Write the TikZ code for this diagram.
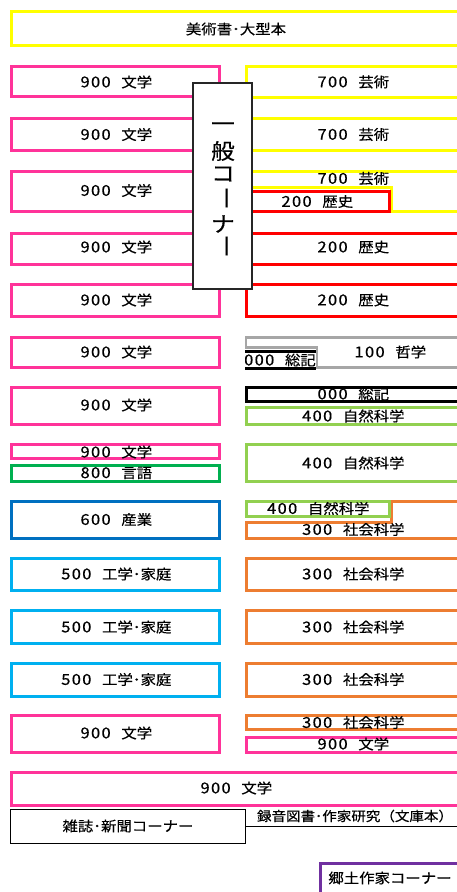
\documentclass[tikz,border=0pt]{standalone}
\usepackage{fontspec}
\setmainfont{Noto Sans CJK JP}[FakeStretch=1.1, FakeBold=0.35]
\usepackage{graphicx}
\definecolor{cpink}{HTML}{FF3399}
\definecolor{cyellow}{HTML}{FFFF00}
\definecolor{cred}{HTML}{FF0000}
\definecolor{cgray}{HTML}{A6A6A6}
\definecolor{clgreen}{HTML}{92D050}
\definecolor{cgreen}{HTML}{00B050}
\definecolor{cblue}{HTML}{0070C0}
\definecolor{ccyan}{HTML}{00B0F0}
\definecolor{corange}{HTML}{ED7D31}
\definecolor{cpurple}{HTML}{7030A0}
\newcommand\mydg[3]{{\fontsize{15}{16}\selectfont\makebox[10.5pt]{#1}\makebox[10.5pt]{#2}\makebox[10.5pt]{#3}}}
\newcommand\mylbl[2]{\mydg#1\hspace{10pt}#2}
\newcommand\cbx[6]{\node[cbox=#2, minimum width={(#5-#3)*1pt}, minimum height={(#6-#4)*1pt}] (#1) at ({(#3+#5)/2},{(#4+#6)/2}) {};}
\begin{document}
\begin{tikzpicture}[x=1pt,y=-1pt,
  cbox/.style={draw=#1, line width=3pt, fill=white, inner sep=0pt, outer sep=0pt},
  lbl/.style={inner sep=0pt, font=\fontsize{14}{16}\selectfont},
  big/.style={inner sep=0pt, font=\fontsize{21.5}{22}\selectfont}]
\useasboundingbox (0,0) rectangle (457,892);
\fill[white] (0,0) rectangle (457,892);
\clip (0,0) rectangle (457,892);

% top
\cbx{top}{cyellow}{11}{11.5}{461}{45.5}
\node[lbl] (ttop) at (236,29) {美術書･大型本};

% left column
\cbx{L1}{cpink}{11}{66.5}{219}{96.5}
\cbx{L2}{cpink}{11}{118.5}{219}{150.5}
\cbx{L3}{cpink}{11}{171.5}{219}{211.5}
\cbx{L4}{cpink}{11}{233.5}{219}{264.5}
\cbx{L5}{cpink}{11}{284.5}{219}{316.5}
\cbx{L6}{cpink}{11}{337.5}{219}{367.5}
\cbx{L7}{cpink}{11}{387.5}{219}{424.5}
\cbx{L8a}{cpink}{11}{444.5}{219}{458.5}
\cbx{L8b}{cgreen}{11}{465.5}{219}{481.5}
\cbx{L9}{cblue}{11}{501.5}{219}{538.5}
\cbx{L10}{ccyan}{11}{558.5}{219}{590.5}
\cbx{L11}{ccyan}{11}{610.5}{219}{643.5}
\cbx{L12}{ccyan}{11}{663.5}{219}{696.5}
\cbx{L13}{cpink}{11}{715.5}{219}{752.5}
\cbx{W}{cpink}{11}{772.5}{461}{805.5}

\node[lbl] (tL1) at (116,82) {\mylbl{900}{文学}};
\node[lbl] (tL2) at (116,134.5) {\mylbl{900}{文学}};
\node[lbl] (tL3) at (116,190.5) {\mylbl{900}{文学}};
\node[lbl] (tL4) at (116,247) {\mylbl{900}{文学}};
\node[lbl] (tL5) at (116,300) {\mylbl{900}{文学}};
\node[lbl] (tL6) at (116,352) {\mylbl{900}{文学}};
\node[lbl] (tL7) at (116,405) {\mylbl{900}{文学}};
\node[lbl] (tL8a) at (116,452) {\mylbl{900}{文学}};
\node[lbl] (tL8b) at (116,473) {\mylbl{800}{言語}};
\node[lbl] (tL9) at (116,519.5) {\mylbl{600}{産業}};
\node[lbl] (tL10) at (116,574) {\mylbl{500}{工学･家庭}};
\node[lbl] (tL11) at (116,627) {\mylbl{500}{工学･家庭}};
\node[lbl] (tL12) at (116,679.5) {\mylbl{500}{工学･家庭}};
\node[lbl] (tL13) at (116,733) {\mylbl{900}{文学}};
\node[lbl] (tW) at (236,788) {\mylbl{900}{文学}};

% right column
\cbx{R1}{cyellow}{246}{66.5}{459}{97.5}
\cbx{R2}{cyellow}{246}{118.5}{459}{150.5}
\draw[cyellow, line width=3pt, fill=white] (246,187.5) -- (246,171.5) -- (459,171.5) -- (459,211.5) -- (391,211.5) -- (391,187.5) -- cycle;
\cbx{R3b}{cred}{246}{191.5}{389}{211.5}
\cbx{R4}{cred}{246}{233.5}{459}{264.5}
\cbx{R5}{cred}{246}{284.5}{459}{316.5}
\draw[cgray, line width=2.6pt, fill=white] (246,347.5) -- (246,337.5) -- (459,337.5) -- (459,367.5) -- (317,367.5) -- (317,347.5) -- cycle;
\begin{scope}
\clip (245,349) rectangle (316,371);
\fill[white] (245,351) rectangle (316,368.5);
\node[lbl, anchor=east] (tR6b) at (316,360) {\mylbl{000}{総記}};
\end{scope}
\draw[black, line width=3pt] (245,351) -- (316,351);
\draw[black, line width=3pt] (245,368.5) -- (316,368.5);
\cbx{R7a}{black}{246}{387.5}{459}{401.5}
\cbx{R7b}{clgreen}{246}{407.5}{459}{424.5}
\cbx{R8}{clgreen}{246}{444.5}{459}{481.5}
\draw[corange, line width=3pt, fill=white] (246,522) -- (391,522) -- (391,501.5) -- (459,501.5) -- (459,538.5) -- (246,538.5) -- cycle;
\cbx{R9a}{clgreen}{246}{501.5}{389}{516.5}
\cbx{R10}{corange}{246}{558.5}{459}{590.5}
\cbx{R11}{corange}{246}{610.5}{459}{643.5}
\cbx{R12}{corange}{246}{663.5}{459}{696.5}
\cbx{R13a}{corange}{246}{715.5}{459}{729.5}
\cbx{R13b}{cpink}{246}{737.5}{459}{752.5}

\node[lbl] (tR1) at (353,82) {\mylbl{700}{芸術}};
\node[lbl] (tR2) at (353,134.5) {\mylbl{700}{芸術}};
\node[lbl] (tR3a) at (353,178.5) {\mylbl{700}{芸術}};
\node[lbl] (tR3b) at (317,201.5) {\mylbl{200}{歴史}};
\node[lbl] (tR4) at (353,247) {\mylbl{200}{歴史}};
\node[lbl] (tR5) at (353,300) {\mylbl{200}{歴史}};
\node[lbl] (tR6) at (390,352) {\mylbl{100}{哲学}};
\node[lbl] (tR7a) at (353,394) {\mylbl{000}{総記}};
\node[lbl] (tR7b) at (353,416) {\mylbl{400}{自然科学}};
\node[lbl] (tR8) at (353,463) {\mylbl{400}{自然科学}};
\node[lbl] (tR9a) at (318,508.5) {\mylbl{400}{自然科学}};
\node[lbl] (tR9b) at (353,529.5) {\mylbl{300}{社会科学}};
\node[lbl] (tR10) at (353,574) {\mylbl{300}{社会科学}};
\node[lbl] (tR11) at (353,627) {\mylbl{300}{社会科学}};
\node[lbl] (tR12) at (353,679.5) {\mylbl{300}{社会科学}};
\node[lbl] (tR13a) at (353,722.5) {\mylbl{300}{社会科学}};
\node[lbl] (tR13b) at (353,744) {\mylbl{900}{文学}};

% general corner
\node[draw=black!85, line width=2pt, fill=white, minimum width=59pt, minimum height=206pt, inner sep=0pt] (gen) at (222.5,186) {};
\node[big] (g1) at (223,127) {一};
\node[big] (g2) at (223,151) {般};
\node[big] (g3) at (223,174) {コ};
\node[big, rotate=-90] (g4) at (223,198) {ー};
\node[big] (g5) at (223,224) {ナ};
\node[big, rotate=-90] (g6) at (223,246) {ー};

% bottom
\node[draw=black, line width=1pt, fill=white, minimum width=235pt, minimum height=34pt, inner sep=0pt] (mag) at (127.5,826) {};
\node[lbl] (tmag) at (128,826) {雑誌･新聞コーナー};
\coordinate (recEnd) at (459,826);
\draw[black, line width=1pt] (mag.east) -- (recEnd);
\node[inner sep=0pt, font=\fontsize{13.2}{15}\selectfont] (trec) at (355,816) {録音図書･作家研究（文庫本）};
\node[draw=cpurple, line width=3pt, fill=white, minimum width=160pt, minimum height=50pt, inner sep=0pt, anchor=north west] (local) at (318.5,861.5) {};
\node[lbl] (tlocal) at (390,878) {郷土作家コーナー};
\end{tikzpicture}
\end{document}
